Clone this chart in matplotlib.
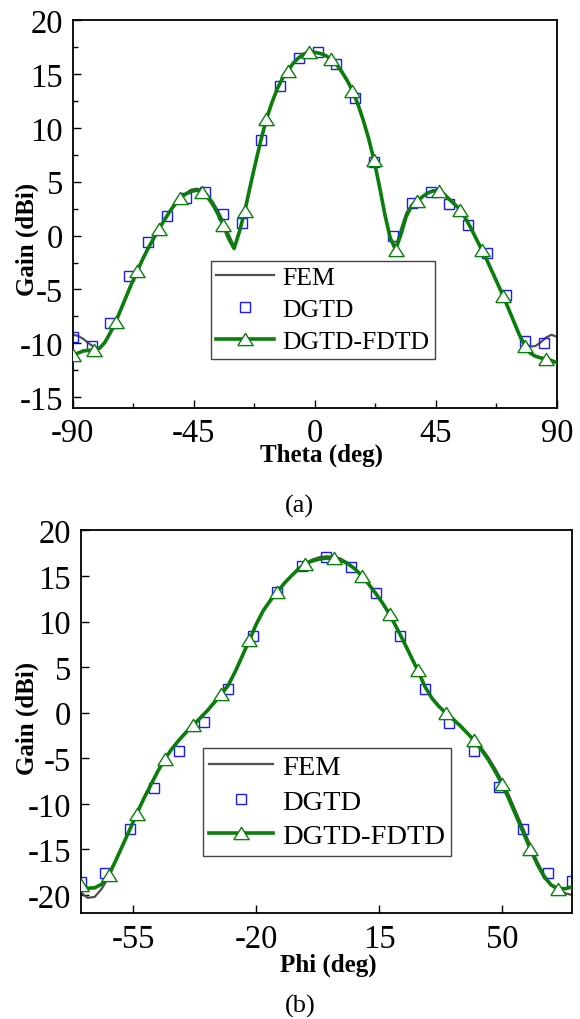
import matplotlib
matplotlib.use('Agg')
import matplotlib.pyplot as plt
from matplotlib.ticker import MultipleLocator, FixedLocator

plt.rcParams['font.family'] = ['Liberation Serif', 'DejaVu Serif']
plt.rcParams['axes.unicode_minus'] = False

# ---------------- (a) Theta cut ----------------
theta_line = list(range(-90, 91, 2))
fem_a = [-9.2, -9.3, -9.6, -10.0, -10.35, -10.45, -9.9, -9.0, -8.0, -6.8,
         -5.6, -4.4, -3.3, -2.2, -1.2, -0.3, 0.6, 1.4, 2.2, 2.9,
         3.5, 3.9, 4.25, 4.35, 4.25, 3.8, 3.15, 2.3, 1.3, 0.1,
         -1.0, 0.3, 2.3, 4.6, 6.8, 8.9, 10.8, 12.3, 13.6, 14.6,
         15.3, 16.0, 16.5, 16.85, 17.0, 17.0, 16.9, 16.7, 16.4, 15.9,
         15.2, 14.4, 13.45, 12.2, 10.7, 9.0, 7.0, 4.6, 2.0, -0.2,
         -1.1, 0.6, 2.1, 2.85, 3.25, 3.65, 4.0, 4.2, 4.2, 3.9,
         3.4, 2.9, 2.4, 1.6, 0.7, -0.3, -1.3, -2.3, -3.4, -4.5,
         -5.6, -6.8, -8.0, -9.2, -10.0, -10.3, -10.25, -9.9, -9.45, -9.2,
         -9.4]
hybrid_a = [-11.1, -10.9, -10.7, -10.65, -10.6, -10.45, -9.9, -9.0, -8.0, -6.8,
            -5.6, -4.4, -3.3, -2.2, -1.2, -0.3, 0.6, 1.4, 2.2, 2.9,
            3.5, 3.85, 4.1, 4.2, 4.05, 3.6, 2.9, 2.0, 0.95, -0.3,
            -1.2, 0.4, 2.3, 4.6, 6.8, 8.9, 10.8, 12.3, 13.6, 14.6,
            15.3, 16.0, 16.5, 16.85, 17.0, 17.0, 16.9, 16.7, 16.4, 15.9,
            15.2, 14.4, 13.45, 12.2, 10.7, 9.0, 7.0, 4.6, 2.0, -0.2,
            -1.3, 0.1, 1.8, 2.75, 3.2, 3.6, 3.95, 4.15, 4.15, 3.85,
            3.35, 2.9, 2.4, 1.6, 0.7, -0.3, -1.3, -2.3, -3.4, -4.5,
            -5.6, -6.8, -8.0, -9.2, -10.2, -10.9, -11.2, -11.35, -11.45, -11.6,
            -11.8]
theta_dgtd = [-90, -83, -76, -69, -62, -55, -48, -41, -34, -27, -20, -13, -6,
              1, 8, 15, 22, 29, 36, 43, 50, 57, 64, 71, 78, 85]
dgtd_a = [-9.4, -10.2, -8.13, -3.77, -0.61, 1.80, 3.50, 4.03, 2.01, 1.15, 8.88, 13.92, 16.45,
          17.07, 15.93, 12.75, 6.8, -0.03, 3.0, 4.0, 2.94, 1.02, -1.6, -5.5, -9.8, -10.0]

# ---------------- (b) Phi cut ----------------
phi_line = list(range(-70, 71, 2))
fem_b = [-19.7, -20.3, -20.2, -19.3, -18.0, -16.2, -14.5, -12.8, -11.06, -9.4,
         -7.9, -6.4, -5.04, -3.95, -3.0, -2.15, -1.39, -0.6, 0.2, 1.1,
         2.0, 3.0, 4.5, 6.2, 7.92, 9.7, 11.2, 12.3, 13.22, 14.2,
         15.0, 15.8, 16.4, 16.8, 17.05, 17.15, 17.1, 16.9, 16.45, 15.85,
         15.04, 14.1, 13.1, 12.0, 10.77, 9.3, 7.8, 6.2, 4.64, 2.9,
         1.6, 0.7, -0.03, -0.7, -1.4, -2.15, -2.95, -3.8, -4.85, -6.1,
         -7.5, -9.1, -10.9, -12.7, -14.5, -16.3, -17.8, -18.9, -19.5, -19.8,
         -20.0]
hybrid_b = [-18.9, -19.25, -19.2, -18.8, -17.8, -16.2, -14.5, -12.8, -11.06, -9.4,
            -7.9, -6.4, -5.04, -3.95, -3.0, -2.15, -1.39, -0.6, 0.2, 1.1,
            2.0, 3.0, 4.5, 6.2, 7.92, 9.7, 11.2, 12.3, 13.22, 14.2,
            15.0, 15.75, 16.32, 16.65, 16.85, 16.95, 16.94, 16.75, 16.35, 15.8,
            15.04, 14.1, 13.1, 12.0, 10.77, 9.3, 7.8, 6.2, 4.64, 2.9,
            1.6, 0.7, -0.03, -0.7, -1.4, -2.2, -3.03, -4.0, -5.1, -6.4,
            -7.85, -9.5, -11.3, -13.1, -14.9, -16.6, -18.0, -18.9, -19.28, -19.3,
            -19.1]
phi_dgtd = [-70, -63, -56, -49, -42, -35, -28, -21, -14, -7, 0,
            7, 14, 21, 28, 35, 42, 49, 56, 63, 70]
dgtd_b = [-18.55, -17.56, -12.8, -8.25, -4.2, -1.05, 2.63, 8.36, 13.29, 16.14, 17.05,
          16.03, 13.14, 8.36, 2.63, -1.1, -4.2, -8.2, -12.8, -17.56, -18.5]

labels = ['FEM', 'DGTD', 'DGTD-FDTD']

# styling
fem_color = '#505050'
green = '#0a7d0a'
blue = '#1a1aff'
tri_marker = [(-1, -0.8), (1, -0.8), (0, 0.8), (-1, -0.8)]
TICK_FS = 23.5
LAB_FS = 18

fig = plt.figure(figsize=(5.8, 10.2), dpi=100)
ax1 = fig.add_axes([0.1253, 0.599, 0.835, 0.3804])
ax2 = fig.add_axes([0.1391, 0.1036, 0.8476, 0.3755])


def draw(ax, xl, fem, hyb, xd, dg):
    ax.plot(xl, fem, color=fem_color, lw=1.6, zorder=2, label=labels[0])
    ax.plot(xd, dg, ls='none', marker='s', ms=7.2, mfc='none', mec=blue,
            mew=1.0, zorder=2.5, label=labels[1])
    ax.plot(xl, hyb, color=green, lw=2.6, marker=tri_marker, ms=11,
            mfc='white', mec=green, mew=1.0, markevery=4, zorder=3,
            label=labels[2])
    for s in ax.spines.values():
        s.set_linewidth(1.3)
    ax.tick_params(which='both', direction='in', top=False, right=False,
                   labelsize=TICK_FS, width=1.0)
    ax.tick_params(which='major', length=6)
    ax.tick_params(which='minor', length=3.5)
    ax.tick_params(axis='y', pad=7)
    ax.tick_params(axis='x', pad=7)


def legend(ax, anchor, fs, spacing):
    leg = ax.legend(loc='upper left', bbox_to_anchor=anchor, borderaxespad=0,
                    fontsize=fs, frameon=True, fancybox=False, framealpha=1,
                    edgecolor='#444444', handlelength=2.25, handletextpad=0.3,
                    labelspacing=spacing, borderpad=0.22)
    leg.get_frame().set_linewidth(1.0)
    return leg


draw(ax1, theta_line, fem_a, hybrid_a, theta_dgtd, dgtd_a)
ax1.set_xlim(-90, 90)
ax1.set_ylim(-16, 20)
ax1.xaxis.set_major_locator(FixedLocator([-90, -45, 0, 45, 90]))
ax1.xaxis.set_minor_locator(MultipleLocator(22.5))
ax1.yaxis.set_major_locator(FixedLocator([-15, -10, -5, 0, 5, 10, 15, 20]))
ax1.yaxis.set_minor_locator(MultipleLocator(2.5))
ax1.set_xlabel('Theta (deg)', fontsize=LAB_FS, fontweight='bold', va='center')
ax1.set_ylabel('Gain (dBi)', fontsize=LAB_FS, fontweight='bold', va='center')
ax1.xaxis.set_label_coords(0.513, -0.1186)
ax1.yaxis.set_label_coords(-0.094, 0.438)
legend(ax1, (0.285, 0.380), 18.5, 0.35)

draw(ax2, phi_line, fem_b, hybrid_b, phi_dgtd, dgtd_b)
ax2.set_xlim(-70, 70)
ax2.set_ylim(-22, 20)
ax2.xaxis.set_major_locator(FixedLocator([-55, -20, 15, 50]))
ax2.yaxis.set_major_locator(FixedLocator([-20, -15, -10, -5, 0, 5, 10, 15, 20]))
ax2.set_xlabel('Phi (deg)', fontsize=LAB_FS, fontweight='bold', va='center')
ax2.set_ylabel('Gain (dBi)', fontsize=LAB_FS, fontweight='bold', va='center')
ax2.xaxis.set_label_coords(0.503, -0.132)
ax2.yaxis.set_label_coords(-0.109, 0.512)
legend(ax2, (0.249, 0.431), 20.5, 0.3)

fig.text(0.517, 1 - 506 / 1020, '(a)', fontsize=19, ha='center', va='center')
fig.text(0.517, 1 - 1006 / 1020, '(b)', fontsize=19, ha='center', va='center')

fig.savefig('out.png', dpi=100)
